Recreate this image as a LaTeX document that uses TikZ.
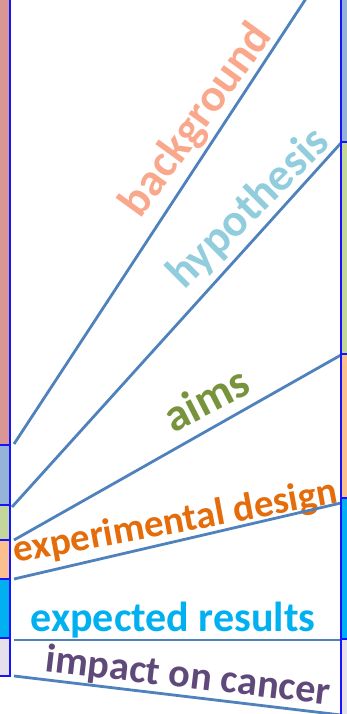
\documentclass[tikz,border=0pt]{standalone}
\usepackage{fontspec}
\setmainfont{Carlito}
\definecolor{barblue}{RGB}{20,20,255}
\definecolor{linkblue}{RGB}{79,129,189}
\definecolor{cmauve}{RGB}{217,150,148}
\definecolor{cgrey}{RGB}{149,179,215}
\definecolor{cgreen}{RGB}{195,214,155}
\definecolor{cpeach}{RGB}{250,192,144}
\definecolor{ccyan}{RGB}{0,176,240}
\definecolor{clav}{RGB}{230,224,236}
\definecolor{tbgc}{RGB}{249,168,140}
\definecolor{thyp}{RGB}{146,205,221}
\definecolor{taims}{RGB}{119,147,60}
\definecolor{texp}{RGB}{228,108,10}
\definecolor{tres}{RGB}{0,176,240}
\definecolor{timp}{RGB}{95,73,122}
\newcommand{\labsize}[1]{\fontsize{#1}{#1}\selectfont\bfseries}
\begin{document}
\begin{tikzpicture}[x=1pt,y=1pt,
  seg/.style={draw=barblue,line width=1.3pt},
  conn/.style={draw=linkblue,line width=2.8pt},
  lab/.style={inner sep=0pt,anchor=base}]
\useasboundingbox (0,0) rectangle (346,714);
% labels
\node[lab,text=tbgc,rotate=54,font=\labsize{46}] (tbg) at (207,586) {background};
\node[lab,text=thyp,rotate=44.8,font=\labsize{46}] (thy) at (258,496) {hypothesis};
\node[lab,text=taims,rotate=27,font=\labsize{46}] (tai) at (213,301) {aims};
\node[lab,text=texp,rotate=10.5,font=\labsize{39}] (tex) at (177.5,181) {experimental design};
\node[lab,text=tres,font=\labsize{42}] (tre) at (173,82) {expected results};
\node[lab,text=timp,rotate=-6.75,font=\labsize{40.3}] (tim) at (186.5,26) {impact on cancer};
% connector ends
\coordinate (a1) at (14,270);  \coordinate (b1) at (309,720);
\coordinate (a2) at (12,207);  \coordinate (b2) at (341,571);
\coordinate (a3) at (14,174);  \coordinate (b3) at (341,359);
\coordinate (a4) at (14,135);  \coordinate (b4) at (341,211);
\coordinate (a5) at (14,74);   \coordinate (b5) at (341,74);
\coordinate (a6) at (14,38);   \coordinate (b6) at (341,-1);
\foreach \i in {1,...,6} {\draw[conn] (a\i) -- (b\i);}
% left column
\filldraw[seg,fill=cmauve] (-2,269) rectangle (10,720);
\filldraw[seg,fill=cgrey]  (-2,209) rectangle (10,269);
\filldraw[seg,fill=cgreen] (-2,174) rectangle (10,209);
\filldraw[seg,fill=cpeach] (-2,135) rectangle (10,174);
\filldraw[seg,fill=ccyan]  (-2,76)  rectangle (10,135);
\filldraw[seg,fill=clav]   (-2,38)  rectangle (10,76);
% right column
\filldraw[seg,fill=cgrey]  (341,572) rectangle (352,720);
\filldraw[seg,fill=cgreen] (341,360) rectangle (352,572);
\filldraw[seg,fill=cpeach] (341,216) rectangle (352,360);
\filldraw[seg,fill=ccyan]  (341,75)  rectangle (352,216);
\filldraw[seg,fill=clav]   (341,-5)  rectangle (352,75);
\end{tikzpicture}
\end{document}
